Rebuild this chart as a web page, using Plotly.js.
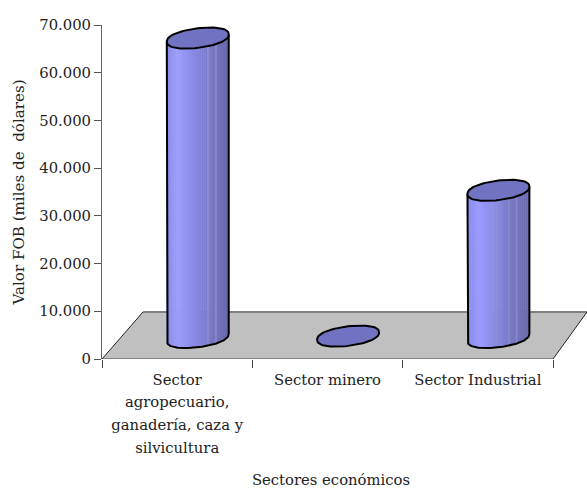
<!DOCTYPE html>
<html><head><meta charset="utf-8">
<script src="https://cdn.plot.ly/plotly-3.0.1.min.js"></script>
<style>html,body{margin:0;padding:0;background:#fff;overflow:hidden}</style>
</head><body><div id="chart" style="width:587px;height:488px"></div>
<script>
const categories = ["Sector agropecuario, ganadería, caza y silvicultura", "Sector minero", "Sector Industrial"];
const tickLines = [["Sector","agropecuario,","ganadería, caza y","silvicultura"],["Sector minero"],["Sector Industrial"]];
const values = [62760, 300, 30850];
const yTicks = [0,10000,20000,30000,40000,50000,60000,70000];
const yTickText = ["0","10.000","20.000","30.000","40.000","50.000","60.000","70.000"];
const positions = [0,1,2];

const FONT = "'DejaVu Serif', serif";
const LBL = 14.8;
// pseudo-3D geometry, in axis units
const xShift = 0.137, halfW = 0.206, yBase = 4500, ellB = 2050, ellS = 760, ellP = 0.85, N = 32;
const gradStops = [[0,[136,136,232]],[0.18,[156,156,255]],[0.55,[130,130,218]],[0.75,[118,118,192]],[1,[104,104,170]]];
function grad(t){
  for(let i=1;i<gradStops.length;i++){
    if(t<=gradStops[i][0]){
      const a=gradStops[i-1],b=gradStops[i],f=(t-a[0])/(b[0]-a[0]);
      return 'rgb('+a[1].map((v,k)=>Math.round(v+(b[1][k]-v)*f)).join(',')+')';
    }
  }
  return 'rgb(104,104,170)';
}
const arc=s=>Math.sign(s)*Math.pow(Math.abs(s),ellP);
function ellipse(cx,cv){
  const xs=[],ys=[];
  for(let i=0;i<=72;i++){const t=i/72*2*Math.PI,u=Math.cos(t);
    xs.push(cx+halfW*u); ys.push(cv+ellB*arc(Math.sin(t))+ellS*u);}
  return {xs,ys};
}
const traces=[];
const bx=[],by=[],bb=[],bw=[],bc=[];
values.forEach((v,i)=>{
  if(v<1000) return;
  const cx=positions[i]+xShift;
  for(let k=0;k<N;k++){
    const t=(k+0.5)/N,u=2*t-1;
    const low=yBase-ellB*arc(Math.sqrt(1-u*u))+ellS*u;
    bx.push(cx+halfW*u); bb.push(low);
    by.push(yBase+v+ellS*u-low);
    bw.push(2*halfW/N*1.25);
    let c=grad(t);
    if(k===21||k===25) c='rgb(136,136,204)';
    bc.push(c);
  }
});
traces.push({type:'bar',x:bx,y:by,base:bb,width:bw,marker:{color:bc,line:{width:0}},hoverinfo:'skip',showlegend:false});
values.forEach((v,i)=>{
  const cx=positions[i]+xShift, top=yBase+v;
  if(v>=1000){
    const xs=[],ys=[];
    for(let k=0;k<=72;k++){const t=Math.PI+k/72*Math.PI,u=Math.cos(t);
      xs.push(cx+halfW*u); ys.push(yBase+ellB*arc(Math.sin(t))+ellS*u);}
    traces.push({type:'scatter',mode:'lines',
      x:[cx-halfW].concat(xs,[cx+halfW]),y:[top-ellS].concat(ys,[top+ellS]),
      line:{color:'#000',width:2},hoverinfo:'skip',showlegend:false});
  }
  const e=ellipse(cx,top);
  traces.push({type:'scatter',mode:'lines',x:e.xs,y:e.ys,fill:'toself',fillcolor:'#7272c2',
    line:{color:'#000',width:2},hoverinfo:'skip',showlegend:false,name:categories[i]});
});
const L=102,R=560,W=587;
const px=v=>(v-L)/(R-L);
const tickText=tickLines.map(l=>l.map(s=>'<span style="font-size:'+LBL+'px">'+s+'</span>').join('<br>'));
const floorTop=(359-312)/334;
const layout={
  width:587,height:488,paper_bgcolor:'#fff',plot_bgcolor:'rgba(0,0,0,0)',
  margin:{l:L,r:W-R,t:25,b:129,pad:0},
  font:{family:FONT,color:'#222',size:LBL},
  barmode:'overlay',showlegend:false,hovermode:false,
  xaxis:{type:'linear',range:[-0.5,2.5+7/150.33],tickmode:'array',tickvals:positions,ticktext:tickText,
    ticks:'',tickfont:{family:FONT,size:17.5,color:'#222'},showgrid:false,zeroline:false,showline:false,
    ticklabelstandoff:7,tickangle:0,
    minor:{ticks:'outside',ticklen:8,tickwidth:1,tickcolor:'#444',tickmode:'array',tickvals:[-0.5,0.5,1.5,2.5],showgrid:false},
    title:{text:'Sectores económicos',font:{family:FONT,size:LBL,color:'#222'},standoff:23}},
  yaxis:{range:[0,70000],tickmode:'array',tickvals:yTicks,ticktext:yTickText,ticks:'outside',ticklen:7,tickwidth:1,tickcolor:'#555',
    showgrid:false,zeroline:false,showline:true,linecolor:'#666',linewidth:1,
    tickfont:{family:FONT,size:LBL,color:'#222'},
    title:{text:'Valor FOB (miles de  dólares)',font:{family:FONT,size:15.1,color:'#222'},standoff:10}},
  shapes:[
    {type:'path',layer:'below',xref:'paper',yref:'paper',
     path:'M '+px(102)+' 0 L '+px(553)+' 0 L '+px(587)+' '+floorTop+' L '+px(143)+' '+floorTop+' Z',
     fillcolor:'#c0c0c0',line:{width:0}},
    {type:'line',layer:'below',xref:'paper',yref:'paper',x0:px(143),x1:px(587),y0:floorTop,y1:floorTop,line:{color:'#808080',width:2}},
    {type:'line',layer:'below',xref:'paper',yref:'paper',x0:px(102),x1:px(143),y0:0,y1:floorTop,line:{color:'#222',width:1}},
    {type:'line',layer:'below',xref:'paper',yref:'paper',x0:px(553),x1:px(587),y0:0,y1:floorTop,line:{color:'#222',width:1}},
    {type:'line',layer:'below',xref:'x',yref:'y',x0:-0.5,x1:2.5,y0:0,y1:0,line:{color:'#444',width:1}}
  ]
};
Plotly.newPlot('chart',traces,layout,{displayModeBar:false,staticPlot:true});
</script></body></html>
